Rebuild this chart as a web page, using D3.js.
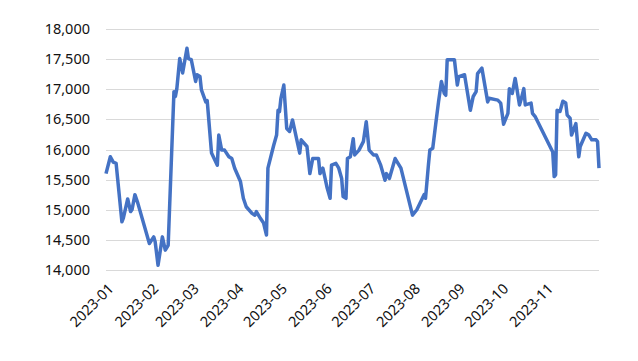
<!DOCTYPE html>
<html>
<head>
<meta charset="utf-8">
<script src="https://cdn.jsdelivr.net/npm/d3@7.9.0/dist/d3.min.js"></script>
<style>
  body { margin: 0; background: #fff; }
  text { font-family: "Noto Sans", sans-serif; }
</style>
</head>
<body>
<svg id="chart" width="638" height="361"></svg>
<script>
// data
const dates = [
  '2023-01-01','2023-01-04','2023-01-06','2023-01-08','2023-01-12','2023-01-13','2023-01-16','2023-01-18','2023-01-19','2023-01-21',
  '2023-01-23','2023-01-31','2023-02-03','2023-02-04','2023-02-06','2023-02-09','2023-02-11','2023-02-13','2023-02-17','2023-02-18',
  '2023-02-19','2023-02-21','2023-02-23','2023-02-26','2023-02-27','2023-03-01','2023-03-04','2023-03-05','2023-03-07','2023-03-08',
  '2023-03-11','2023-03-12','2023-03-15','2023-03-19','2023-03-20','2023-03-22','2023-03-24','2023-03-27','2023-03-29','2023-03-31',
  '2023-04-04','2023-04-06','2023-04-08','2023-04-12','2023-04-14','2023-04-15','2023-04-18','2023-04-20','2023-04-22','2023-04-23',
  '2023-04-27','2023-04-29','2023-04-30','2023-05-01','2023-05-02','2023-05-04','2023-05-06','2023-05-08','2023-05-10','2023-05-13',
  '2023-05-15','2023-05-16','2023-05-20','2023-05-22','2023-05-24','2023-05-28','2023-05-29','2023-05-31','2023-06-03','2023-06-05',
  '2023-06-06','2023-06-09','2023-06-11','2023-06-13','2023-06-14','2023-06-16','2023-06-17','2023-06-19','2023-06-21','2023-06-22',
  '2023-06-25','2023-06-28','2023-06-30','2023-07-02','2023-07-05','2023-07-07','2023-07-10','2023-07-13','2023-07-14','2023-07-16',
  '2023-07-20','2023-07-24','2023-07-28','2023-08-01','2023-08-04','2023-08-06','2023-08-09','2023-08-10','2023-08-12','2023-08-13',
  '2023-08-15','2023-08-17','2023-08-19','2023-08-21','2023-08-23','2023-08-24','2023-08-25','2023-08-30','2023-09-01','2023-09-02',
  '2023-09-06','2023-09-10','2023-09-12','2023-09-14','2023-09-15','2023-09-18','2023-09-22','2023-09-23','2023-09-29','2023-10-01',
  '2023-10-03','2023-10-06','2023-10-07','2023-10-09','2023-10-11','2023-10-12','2023-10-14','2023-10-15','2023-10-17','2023-10-18',
  '2023-10-22','2023-10-23','2023-10-25','2023-11-06','2023-11-07','2023-11-08','2023-11-09','2023-11-11','2023-11-13','2023-11-15',
  '2023-11-16','2023-11-18','2023-11-19','2023-11-22','2023-11-24','2023-11-25','2023-11-29','2023-12-01','2023-12-03','2023-12-06',
  '2023-12-07','2023-12-08'
];
const values = [
  15600,15880,15790,15770,14800,14860,15180,14970,15000,15250,
  15110,14440,14550,14470,14080,14550,14330,14410,16960,16880,
  17010,17510,17270,17680,17510,17490,17130,17240,17210,16990,
  16790,16810,15940,15740,16240,15990,15990,15880,15850,15690,
  15470,15190,15050,14940,14910,14970,14850,14780,14580,15690,
  16070,16240,16650,16630,16850,17070,16350,16300,16490,16160,
  15940,16160,16050,15600,15850,15850,15600,15690,15360,15190,
  15740,15770,15690,15520,15220,15190,15850,15880,16180,15910,
  15990,16130,16460,15990,15910,15910,15740,15490,15600,15520,
  15850,15690,15300,14910,15000,15100,15250,15190,15740,15990,
  16020,16410,16790,17130,16930,16900,17490,17490,17070,17210,
  17240,16650,16880,16960,17260,17350,16790,16850,16820,16770,
  16420,16600,17010,16930,17180,17040,16740,16820,17010,16740,
  16770,16600,16540,15960,15550,15580,16650,16630,16800,16770,
  16570,16520,16240,16430,15880,16050,16270,16240,16160,16160,
  16130,15690
];
const yTicks = [14000,14500,15000,15500,16000,16500,17000,17500,18000];
const monthTicks = ['2023-01','2023-02','2023-03','2023-04','2023-05','2023-06','2023-07','2023-08','2023-09','2023-10','2023-11'];

const parse = d3.timeParse('%Y-%m-%d');
const parseMonth = d3.timeParse('%Y-%m');
const points = dates.map((d, i) => ({ date: parse(d), value: values[i] }));

const svg = d3.select('#chart');
const plotLeft = 106, plotRight = 599, plotTop = 29, plotBottom = 270;

const x = d3.scaleTime()
  .domain([parse('2023-01-01'), parse('2023-12-08')])
  .range([plotLeft, plotRight]);
const y = d3.scaleLinear().domain([14000, 18000]).range([plotBottom, plotTop]);

// gridlines
svg.append('g')
  .selectAll('line')
  .data(yTicks)
  .join('line')
  .attr('x1', plotLeft).attr('x2', plotRight)
  .attr('y1', d => Math.round(y(d)) + 0.5).attr('y2', d => Math.round(y(d)) + 0.5)
  .attr('stroke', '#d9d9d9').attr('stroke-width', 1);

// y labels
const fmt = d3.format(',');
svg.append('g')
  .selectAll('text')
  .data(yTicks)
  .join('text')
  .attr('x', 90)
  .attr('y', d => y(d))
  .attr('dy', '0.35em')
  .attr('text-anchor', 'end')
  .attr('font-size', 14.5)
  .attr('fill', '#111')
  .text(d => fmt(d));

// x labels, rotated
svg.append('g')
  .selectAll('text')
  .data(monthTicks)
  .join('text')
  .attr('transform', d => `translate(${x(parseMonth(d)) + 5},${plotBottom + 16}) rotate(-45)`)
  .attr('text-anchor', 'end')
  .attr('dy', '0.35em')
  .attr('font-size', 14.5)
  .attr('fill', '#111')
  .text(d => d);

// the line
const line = d3.line().x(d => x(d.date)).y(d => y(d.value));
svg.append('path')
  .datum(points)
  .attr('d', line)
  .attr('fill', 'none')
  .attr('stroke', '#4472c4')
  .attr('stroke-width', 3.5)
  .attr('stroke-linejoin', 'round');
</script>
</body>
</html>
